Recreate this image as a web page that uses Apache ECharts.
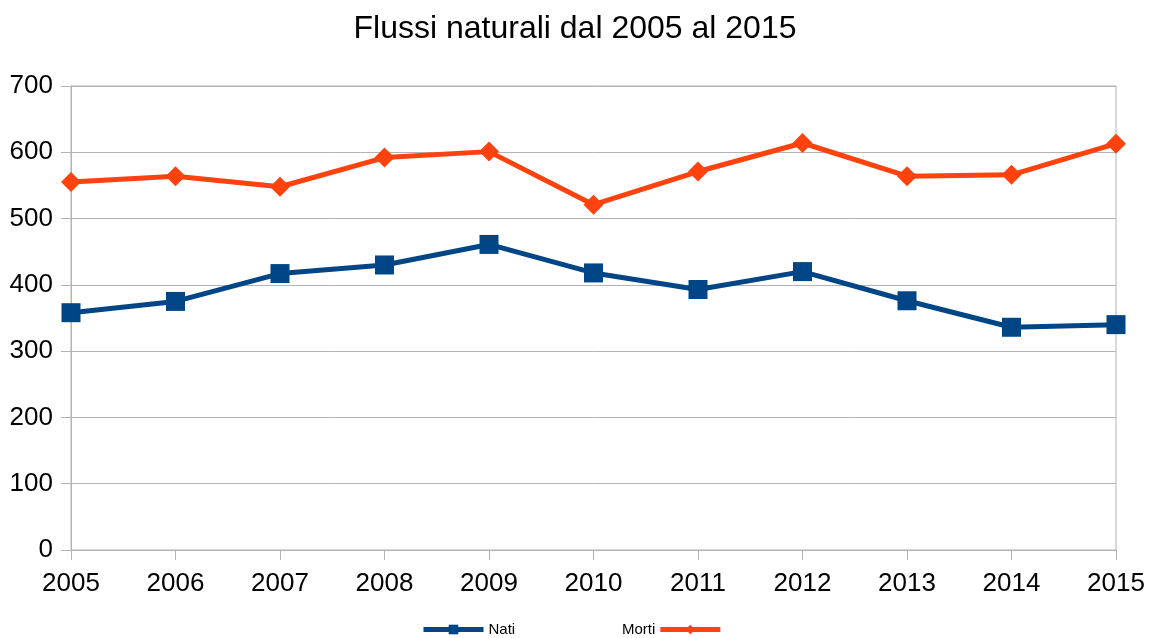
<!DOCTYPE html>
<html>
<head>
<meta charset="utf-8">
<script src="https://cdn.jsdelivr.net/npm/echarts@6/dist/echarts.min.js"></script>
<style>
  html, body { margin: 0; padding: 0; background: #fff; }
  #chart { width: 1150px; height: 638px; }
</style>
</head>
<body>
<div id="chart"></div>
<script>
var years = ['2005', '2006', '2007', '2008', '2009', '2010', '2011', '2012', '2013', '2014', '2015'];
var nati = [358, 375, 417, 430, 461, 418, 393, 420, 376, 336, 340];
var morti = [555, 564, 548, 592, 601, 521, 571, 614, 564, 566, 613];
var yTicks = [0, 100, 200, 300, 400, 500, 600, 700];

var font = 'Liberation Sans';
var grey = '#b3b3b3';
var myChart = echarts.init(document.getElementById('chart'));

var option = {
  animation: false,
  backgroundColor: '#fff',
  title: {
    text: 'Flussi naturali dal 2005 al 2015',
    left: 'center',
    top: 8,
    textStyle: { fontFamily: font, fontSize: 32, fontWeight: 'normal', color: '#000' }
  },
  legend: [{
    data: ['Nati'],
    left: 416,
    top: 617,
    itemWidth: 60,
    itemHeight: 12,
    itemGap: 6,
    lineStyle: { width: 5 },
    textStyle: { fontFamily: font, fontSize: 15, color: '#000' }
  }, {
    data: ['Morti'],
    left: 617,
    top: 617,
    align: 'right',
    itemWidth: 60,
    itemHeight: 12,
    lineStyle: { width: 5 },
    textStyle: { fontFamily: font, fontSize: 15, color: '#000' }
  }],
  grid: {
    left: 71, right: 34, top: 86, bottom: 88,
    show: true, borderColor: grey, borderWidth: 1
  },
  xAxis: {
    type: 'category',
    data: years,
    boundaryGap: false,
    axisLine: { lineStyle: { color: grey } },
    axisTick: { show: true, length: 10, lineStyle: { color: grey } },
    axisLabel: { fontFamily: font, fontSize: 26, color: '#000', margin: 21 },
    splitLine: { show: false }
  },
  yAxis: {
    type: 'value',
    min: yTicks[0],
    max: yTicks[yTicks.length - 1],
    interval: 100,
    axisLine: { show: true, lineStyle: { color: grey } },
    axisTick: { show: true, length: 10, lineStyle: { color: grey } },
    axisLabel: { fontFamily: font, fontSize: 26, color: '#000', margin: 18 },
    splitLine: { lineStyle: { color: grey } }
  },
  series: [{
    name: 'Nati',
    type: 'line',
    data: nati,
    symbol: 'rect',
    symbolSize: 19,
    lineStyle: { color: '#004586', width: 5 },
    itemStyle: { color: '#004586' }
  }, {
    name: 'Morti',
    type: 'line',
    data: morti,
    symbol: 'diamond',
    symbolSize: 20,
    lineStyle: { color: '#ff420e', width: 5 },
    itemStyle: { color: '#ff420e' }
  }]
};
myChart.setOption(option, true);
</script>
</body>
</html>
